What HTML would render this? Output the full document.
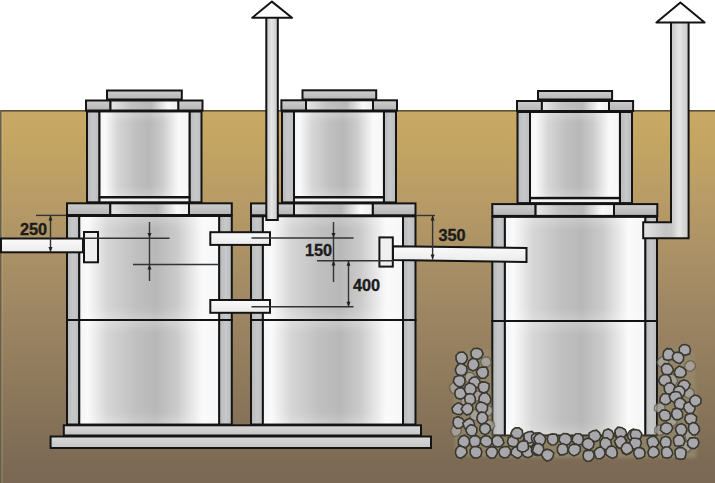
<!DOCTYPE html>
<html><head><meta charset="utf-8"><style>
html,body{margin:0;padding:0;background:#fff;}
svg{display:block;}
</style></head><body>
<svg width="715" height="483" viewBox="0 0 715 483">

<defs>
 <linearGradient id="soil" x1="0" y1="0" x2="0" y2="1">
  <stop offset="0" stop-color="#c8a865"/>
  <stop offset="0.08" stop-color="#c4a662"/>
  <stop offset="0.24" stop-color="#b89b66"/>
  <stop offset="0.51" stop-color="#9f8864"/>
  <stop offset="0.72" stop-color="#8f7a5c"/>
  <stop offset="0.95" stop-color="#7c6a55"/>
  <stop offset="1" stop-color="#7a6854"/>
 </linearGradient>
 <linearGradient id="cyl" x1="0" y1="0" x2="1" y2="0">
  <stop offset="0" stop-color="#f4f4f4"/>
  <stop offset="0.06" stop-color="#fafafa"/>
  <stop offset="0.2" stop-color="#d6d6d6"/>
  <stop offset="0.4" stop-color="#c0c0c0"/>
  <stop offset="0.55" stop-color="#b8b8b8"/>
  <stop offset="0.7" stop-color="#cbcbcb"/>
  <stop offset="0.88" stop-color="#fafafa"/>
  <stop offset="1" stop-color="#f6f6f6"/>
 </linearGradient>
 <linearGradient id="wall" x1="0" y1="0" x2="1" y2="0">
  <stop offset="0" stop-color="#b6b8ba"/>
  <stop offset="0.5" stop-color="#c6c8ca"/>
  <stop offset="1" stop-color="#babcbe"/>
 </linearGradient>
 <linearGradient id="block" x1="0" y1="0" x2="0" y2="1">
  <stop offset="0" stop-color="#cdcdcd"/>
  <stop offset="1" stop-color="#b6b6b6"/>
 </linearGradient>
 <linearGradient id="ring" x1="0" y1="0" x2="1" y2="0">
  <stop offset="0" stop-color="#e8e8e8"/>
  <stop offset="0.3" stop-color="#c2c2c2"/>
  <stop offset="0.6" stop-color="#b8b8b8"/>
  <stop offset="0.85" stop-color="#fafafa"/>
  <stop offset="1" stop-color="#eeeeee"/>
 </linearGradient>
 <linearGradient id="pipeV" x1="0" y1="0" x2="1" y2="0">
  <stop offset="0" stop-color="#c4c4c4"/>
  <stop offset="0.45" stop-color="#e6e6e6"/>
  <stop offset="1" stop-color="#c8c8c8"/>
 </linearGradient>
 <linearGradient id="pipeH" x1="0" y1="0" x2="0" y2="1">
  <stop offset="0" stop-color="#fafafa"/>
  <stop offset="1" stop-color="#ebebeb"/>
 </linearGradient>
 <linearGradient id="slab" x1="0" y1="0" x2="0" y2="1">
  <stop offset="0" stop-color="#dadada"/>
  <stop offset="1" stop-color="#c4c4c4"/>
 </linearGradient>
 <filter id="blur2" x="-10%" y="-10%" width="120%" height="120%"><feGaussianBlur stdDeviation="1.5"/></filter>
 <linearGradient id="pipeL" x1="0" y1="0" x2="1" y2="0">
  <stop offset="0" stop-color="#e4e4e4"/>
  <stop offset="0.5" stop-color="#c4c4c4"/>
  <stop offset="1" stop-color="#d8d8d8"/>
 </linearGradient>
 <linearGradient id="vshade" x1="0" y1="0" x2="0" y2="1">
  <stop offset="0" stop-color="#fff" stop-opacity="0.22"/>
  <stop offset="0.12" stop-color="#fff" stop-opacity="0"/>
  <stop offset="0.88" stop-color="#fff" stop-opacity="0"/>
  <stop offset="1" stop-color="#fff" stop-opacity="0.2"/>
 </linearGradient>
</defs>

<rect x="0.00" y="0.00" width="715.00" height="110.50" fill="#ffffff"/>
<rect x="0.00" y="110.50" width="715.00" height="372.50" fill="url(#soil)"/>
<rect x="0.00" y="110.00" width="715.00" height="1.60" fill="#5e5038"/>
<rect x="0.00" y="110.00" width="1.60" height="373.00" fill="#676050"/>
<rect x="1.60" y="111.60" width="1.00" height="371.40" fill="rgba(230,200,130,0.35)"/>
<rect x="87.00" y="111.50" width="12.50" height="90.80" fill="url(#wall)" stroke="#141414" stroke-width="2"/>
<rect x="189.50" y="111.50" width="12.00" height="90.80" fill="url(#wall)" stroke="#141414" stroke-width="2"/>
<rect x="99.50" y="111.50" width="90.00" height="85.50" fill="url(#cyl)" stroke="#141414" stroke-width="2"/>
<rect x="100.50" y="112.50" width="88.00" height="83.50" fill="url(#vshade)"/>
<rect x="99.50" y="197.50" width="90.00" height="4.80" fill="#f4f4f4" stroke="#141414" stroke-width="2"/>
<rect x="67.00" y="216.00" width="12.30" height="208.50" fill="url(#wall)" stroke="#141414" stroke-width="2"/>
<rect x="219.10" y="216.00" width="12.70" height="208.50" fill="url(#wall)" stroke="#141414" stroke-width="2"/>
<rect x="79.30" y="216.00" width="139.80" height="208.50" fill="url(#cyl)" stroke="#141414" stroke-width="2"/>
<rect x="80.30" y="217.00" width="137.80" height="102.00" fill="url(#vshade)"/>
<rect x="80.30" y="321.00" width="137.80" height="102.50" fill="url(#vshade)"/>
<line x1="66" y1="320" x2="232.8" y2="320" stroke="#141414" stroke-width="2"/>
<rect x="67.00" y="203.30" width="43.30" height="11.70" fill="url(#block)" stroke="#141414" stroke-width="2"/>
<rect x="189.00" y="203.30" width="42.80" height="11.70" fill="url(#block)" stroke="#141414" stroke-width="2"/>
<rect x="110.30" y="203.30" width="78.70" height="11.70" fill="url(#ring)" stroke="#141414" stroke-width="2"/>
<rect x="86.00" y="100.50" width="24.50" height="10.00" fill="url(#block)" stroke="#141414" stroke-width="2"/>
<rect x="178.20" y="100.50" width="24.30" height="10.00" fill="url(#block)" stroke="#141414" stroke-width="2"/>
<rect x="110.50" y="100.50" width="67.70" height="10.00" fill="url(#ring)" stroke="#141414" stroke-width="2"/>
<rect x="107.00" y="90.50" width="74.80" height="9.00" fill="url(#block)" stroke="#141414" stroke-width="2"/>
<rect x="282.00" y="111.50" width="12.00" height="90.90" fill="url(#wall)" stroke="#141414" stroke-width="2"/>
<rect x="383.90" y="111.50" width="12.10" height="90.90" fill="url(#wall)" stroke="#141414" stroke-width="2"/>
<rect x="294.00" y="111.50" width="89.90" height="85.50" fill="url(#cyl)" stroke="#141414" stroke-width="2"/>
<rect x="295.00" y="112.50" width="87.90" height="83.50" fill="url(#vshade)"/>
<rect x="294.00" y="197.50" width="89.90" height="4.90" fill="#f4f4f4" stroke="#141414" stroke-width="2"/>
<rect x="251.00" y="216.30" width="11.90" height="208.20" fill="url(#wall)" stroke="#141414" stroke-width="2"/>
<rect x="403.00" y="216.30" width="12.50" height="208.20" fill="url(#wall)" stroke="#141414" stroke-width="2"/>
<rect x="262.90" y="216.30" width="140.10" height="208.20" fill="url(#cyl)" stroke="#141414" stroke-width="2"/>
<rect x="263.90" y="217.30" width="138.10" height="101.70" fill="url(#vshade)"/>
<rect x="263.90" y="321.00" width="138.10" height="102.50" fill="url(#vshade)"/>
<line x1="250" y1="320" x2="416.5" y2="320" stroke="#141414" stroke-width="2"/>
<rect x="251.00" y="203.40" width="43.00" height="11.90" fill="url(#block)" stroke="#141414" stroke-width="2"/>
<rect x="372.70" y="203.40" width="42.80" height="11.90" fill="url(#block)" stroke="#141414" stroke-width="2"/>
<rect x="294.00" y="203.40" width="78.70" height="11.90" fill="url(#ring)" stroke="#141414" stroke-width="2"/>
<rect x="281.40" y="100.30" width="24.60" height="10.20" fill="url(#block)" stroke="#141414" stroke-width="2"/>
<rect x="373.00" y="100.30" width="24.00" height="10.20" fill="url(#block)" stroke="#141414" stroke-width="2"/>
<rect x="306.00" y="100.30" width="67.00" height="10.20" fill="url(#ring)" stroke="#141414" stroke-width="2"/>
<rect x="302.50" y="90.30" width="73.70" height="9.20" fill="url(#block)" stroke="#141414" stroke-width="2"/>
<rect x="517.50" y="112.00" width="12.50" height="91.10" fill="url(#wall)" stroke="#141414" stroke-width="2"/>
<rect x="619.90" y="112.00" width="12.10" height="91.10" fill="url(#wall)" stroke="#141414" stroke-width="2"/>
<rect x="530.00" y="112.00" width="89.90" height="85.80" fill="url(#cyl)" stroke="#141414" stroke-width="2"/>
<rect x="531.00" y="113.00" width="87.90" height="83.80" fill="url(#vshade)"/>
<rect x="530.00" y="198.30" width="89.90" height="4.80" fill="#f4f4f4" stroke="#141414" stroke-width="2"/>
<rect x="492.30" y="216.90" width="12.60" height="218.60" fill="url(#wall)" stroke="#141414" stroke-width="2"/>
<rect x="645.20" y="216.90" width="11.80" height="218.60" fill="url(#wall)" stroke="#141414" stroke-width="2"/>
<rect x="504.90" y="216.90" width="140.30" height="218.60" fill="url(#cyl)" stroke="#141414" stroke-width="2"/>
<rect x="505.90" y="217.90" width="138.30" height="102.00" fill="url(#vshade)"/>
<rect x="505.90" y="321.90" width="138.30" height="112.60" fill="url(#vshade)"/>
<line x1="491.3" y1="320.9" x2="658" y2="320.9" stroke="#141414" stroke-width="2"/>
<rect x="492.30" y="204.10" width="43.30" height="11.80" fill="url(#block)" stroke="#141414" stroke-width="2"/>
<rect x="614.00" y="204.10" width="43.30" height="11.80" fill="url(#block)" stroke="#141414" stroke-width="2"/>
<rect x="535.60" y="204.10" width="78.40" height="11.80" fill="url(#ring)" stroke="#141414" stroke-width="2"/>
<rect x="517.00" y="101.00" width="24.90" height="10.00" fill="url(#block)" stroke="#141414" stroke-width="2"/>
<rect x="609.00" y="101.00" width="24.10" height="10.00" fill="url(#block)" stroke="#141414" stroke-width="2"/>
<rect x="541.90" y="101.00" width="67.10" height="10.00" fill="url(#ring)" stroke="#141414" stroke-width="2"/>
<rect x="538.00" y="91.00" width="74.10" height="8.50" fill="url(#block)" stroke="#141414" stroke-width="2"/>
<rect x="63.80" y="425.30" width="357.20" height="10.20" fill="url(#slab)" stroke="#141414" stroke-width="2"/>
<rect x="50.60" y="436.50" width="380.40" height="11.50" fill="url(#slab)" stroke="#141414" stroke-width="2"/>
<rect x="266.30" y="17.00" width="11.50" height="203.00" fill="url(#pipeV)" stroke="#141414" stroke-width="2"/>
<path d="M271.9 1.6 L292 17.8 L252.2 17.8 Z" fill="#fff" stroke="#141414" stroke-width="2" stroke-linejoin="round"/>
<rect x="643.2" y="222.2" width="45.4" height="16" fill="url(#pipeL)"/>
<rect x="671" y="21" width="17.6" height="217.2" fill="url(#pipeV)"/>
<path d="M671 21 L688.6 21 L688.6 238.2 L643.2 238.2 L643.2 222.2 L671 222.2 Z" fill="none" stroke="#141414" stroke-width="2"/>
<path d="M680.4 2.5 L704.6 22.5 L656.4 22.5 Z" fill="#fff" stroke="#141414" stroke-width="2" stroke-linejoin="round"/>
<rect x="1.00" y="238.50" width="82.00" height="13.80" fill="url(#pipeH)" stroke="#141414" stroke-width="2"/>
<rect x="84.00" y="232.00" width="14.00" height="30.30" fill="#f0f0f0" stroke="#141414" stroke-width="2"/>
<rect x="210.30" y="232.20" width="59.70" height="12.70" fill="url(#pipeH)" stroke="#141414" stroke-width="2"/>
<rect x="210.30" y="300.00" width="59.70" height="12.80" fill="url(#pipeH)" stroke="#141414" stroke-width="2"/>
<path d="M393 246.3 L526.5 248 L526.5 261.9 L393 260.1 Z" fill="url(#pipeH)" stroke="#141414" stroke-width="2"/>
<rect x="379.40" y="237.40" width="13.40" height="29.20" fill="#f0f0f0" stroke="#141414" stroke-width="2"/>
<line x1="36" y1="215.4" x2="66" y2="215.4" stroke="#333333" stroke-width="1.4"/>
<line x1="50.5" y1="215.5" x2="50.5" y2="252" stroke="#333333" stroke-width="1.4"/>
<path d="M50.5 215.5 L48.5 220.5 L52.5 220.5 Z" fill="#222"/>
<path d="M50.5 252 L48.5 247 L52.5 247 Z" fill="#222"/>
<line x1="149.5" y1="222" x2="149.5" y2="281" stroke="#333333" stroke-width="1.4"/>
<line x1="84" y1="238.2" x2="169.5" y2="238.2" stroke="#333333" stroke-width="1.5"/>
<path d="M149.5 238 L147.5 233 L151.5 233 Z" fill="#222"/>
<line x1="133" y1="264.5" x2="219" y2="264.5" stroke="#333333" stroke-width="1.4"/>
<path d="M149.5 264.5 L147.5 269.5 L151.5 269.5 Z" fill="#222"/>
<line x1="251.5" y1="238" x2="353.5" y2="238" stroke="#333333" stroke-width="1.4"/>
<line x1="333.5" y1="222" x2="333.5" y2="282" stroke="#333333" stroke-width="1.4"/>
<path d="M333.5 238 L331.5 233 L335.5 233 Z" fill="#222"/>
<line x1="317" y1="260.7" x2="393" y2="260.7" stroke="#333333" stroke-width="1.4"/>
<path d="M333.5 260.5 L331.5 265.5 L335.5 265.5 Z" fill="#222"/>
<line x1="348.5" y1="260.7" x2="348.5" y2="306.7" stroke="#333333" stroke-width="1.4"/>
<path d="M348.5 260.7 L346.5 265.7 L350.5 265.7 Z" fill="#222"/>
<path d="M348.5 306.7 L346.5 301.7 L350.5 301.7 Z" fill="#222"/>
<line x1="251.5" y1="306.7" x2="353.5" y2="306.7" stroke="#333333" stroke-width="1.4"/>
<line x1="416" y1="215.5" x2="435" y2="215.5" stroke="#333333" stroke-width="1.4"/>
<line x1="432.6" y1="215.5" x2="432.6" y2="259.5" stroke="#333333" stroke-width="1.4"/>
<path d="M432.6 215.5 L430.6 220.5 L434.6 220.5 Z" fill="#222"/>
<path d="M432.6 259.5 L430.6 254.5 L434.6 254.5 Z" fill="#222"/>
<text x="20" y="235.2" font-family="Liberation Sans" font-weight="bold" font-size="16.3" fill="#1c1c1c" stroke="#1c1c1c" stroke-width="0.35">250</text>
<text x="305" y="256" font-family="Liberation Sans" font-weight="bold" font-size="16.3" fill="#1c1c1c" stroke="#1c1c1c" stroke-width="0.35">150</text>
<text x="353" y="291" font-family="Liberation Sans" font-weight="bold" font-size="16.3" fill="#1c1c1c" stroke="#1c1c1c" stroke-width="0.35">400</text>
<text x="438.5" y="241.4" font-family="Liberation Sans" font-weight="bold" font-size="16.3" fill="#1c1c1c" stroke="#1c1c1c" stroke-width="0.35">350</text>
<path d="M456 354 L472 348 L490 350 L493 436 L658 436 L660 350 L680 346 L694 352 L698 440 L696 458 L520 458 L456 456 L453 420 Z" fill="#958c6e" filter="url(#blur2)" opacity="0.7"/>
<polygon points="488.74,366.43 485.17,367.71 482.18,365.41 480.36,362.17 481.72,358.62 484.96,357.00 488.66,357.06 490.72,360.12 491.25,363.73" fill="#aba9a8" stroke="#5e5a48" stroke-width="1.3" opacity="0.75"/>
<polygon points="475.02,379.12 473.35,382.38 469.73,383.96 466.50,381.81 464.75,378.68 465.16,374.91 468.17,372.18 472.18,372.75 474.87,375.47" fill="#aba9a8" stroke="#5e5a48" stroke-width="1.3" opacity="0.75"/>
<polygon points="472.92,396.38 473.13,392.50 476.68,390.80 480.26,391.31 482.71,393.87 483.18,397.46 481.35,400.92 477.48,401.22 473.92,399.97" fill="#aba9a8" stroke="#5e5a48" stroke-width="1.3" opacity="0.75"/>
<polygon points="463.69,405.95 460.88,403.39 461.06,399.68 463.07,396.82 466.46,395.75 470.10,396.90 471.50,400.52 470.42,404.09 467.47,406.50" fill="#aba9a8" stroke="#5e5a48" stroke-width="1.3" opacity="0.75"/>
<polygon points="487.79,416.32 483.90,416.05 481.48,412.84 482.06,409.05 484.29,406.00 488.13,405.49 491.72,407.26 492.85,411.16 491.01,414.56" fill="#aba9a8" stroke="#5e5a48" stroke-width="1.3" opacity="0.75"/>
<polygon points="469.84,415.32 470.57,411.73 473.62,409.28 477.32,410.33 480.12,412.77 479.88,416.44 478.20,419.82 474.34,420.86 470.88,418.92" fill="#aba9a8" stroke="#5e5a48" stroke-width="1.3" opacity="0.75"/>
<polygon points="450.02,390.06 449.45,386.24 451.94,383.18 455.75,382.36 459.10,384.26 460.98,387.75 459.83,391.72 456.20,393.44 452.32,393.13" fill="#aba9a8" stroke="#5e5a48" stroke-width="1.3" opacity="0.75"/>
<polygon points="494.72,426.10 492.63,429.48 488.90,431.15 485.10,429.50 483.71,425.85 484.31,422.19 487.11,419.53 490.81,420.27 493.86,422.30" fill="#aba9a8" stroke="#5e5a48" stroke-width="1.3" opacity="0.75"/>
<polygon points="460.47,433.60 457.73,435.81 453.96,436.54 451.50,433.57 450.77,430.05 452.50,426.79 456.03,424.98 459.31,427.08 461.46,430.06" fill="#aba9a8" stroke="#5e5a48" stroke-width="1.3" opacity="0.75"/>
<polygon points="662.07,367.96 658.51,365.92 656.99,362.12 658.83,358.64 661.94,356.60 665.63,357.24 668.63,359.83 668.78,363.98 665.69,366.46" fill="#aba9a8" stroke="#5e5a48" stroke-width="1.3" opacity="0.75"/>
<polygon points="694.51,368.79 691.66,371.03 687.93,371.19 684.98,368.70 684.78,364.92 686.87,362.04 690.17,360.49 693.63,361.93 695.62,365.18" fill="#aba9a8" stroke="#5e5a48" stroke-width="1.3" opacity="0.75"/>
<polygon points="666.25,380.85 667.21,377.06 670.19,374.56 674.13,374.61 676.48,377.57 677.92,381.21 675.68,384.63 671.84,386.02 668.06,384.44" fill="#aba9a8" stroke="#5e5a48" stroke-width="1.3" opacity="0.75"/>
<polygon points="690.82,398.18 687.18,397.83 683.99,395.82 683.98,392.06 685.76,389.05 689.06,387.73 692.40,389.04 694.35,392.12 693.39,395.60" fill="#aba9a8" stroke="#5e5a48" stroke-width="1.3" opacity="0.75"/>
<polygon points="665.21,408.00 663.95,411.32 660.94,413.37 657.46,412.39 654.34,410.05 654.62,406.04 657.40,403.49 660.93,402.76 664.16,404.51" fill="#aba9a8" stroke="#5e5a48" stroke-width="1.3" opacity="0.75"/>
<polygon points="674.14,425.71 670.39,426.77 666.93,424.48 666.46,420.46 668.09,417.02 671.60,415.88 675.00,416.81 677.25,419.65 676.81,423.30" fill="#aba9a8" stroke="#5e5a48" stroke-width="1.3" opacity="0.75"/>
<polygon points="685.52,438.67 685.00,435.19 686.01,431.38 689.92,430.37 693.29,431.97 695.55,434.94 694.43,438.47 692.00,441.26 687.98,441.79" fill="#aba9a8" stroke="#5e5a48" stroke-width="1.3" opacity="0.75"/>
<polygon points="654.71,432.42 654.86,428.58 656.90,425.51 660.49,424.80 664.20,425.85 665.62,429.55 664.82,433.42 661.36,435.23 657.73,434.78" fill="#aba9a8" stroke="#5e5a48" stroke-width="1.3" opacity="0.75"/>
<polygon points="680.90,450.43 680.04,446.37 681.88,442.72 685.59,441.06 689.46,442.26 691.14,445.73 691.05,449.47 688.21,451.97 684.60,451.87" fill="#aba9a8" stroke="#5e5a48" stroke-width="1.3" opacity="0.75"/>
<polygon points="467.42,358.69 465.77,362.17 462.33,364.30 458.10,363.47 456.16,359.71 455.99,355.49 459.07,352.33 463.47,351.98 466.50,354.91" fill="#a8a7ab" stroke="#3a382e" stroke-width="1.6"/>
<polygon points="481.19,357.56 477.89,359.45 474.15,358.82 471.23,356.10 470.90,351.85 473.72,348.56 477.89,348.21 481.54,350.07 483.15,353.97" fill="#a8a7ab" stroke="#3a382e" stroke-width="1.6"/>
<polygon points="466.97,371.10 464.74,374.75 460.53,375.71 456.70,373.86 455.25,369.99 456.59,366.31 459.51,363.46 463.53,364.34 466.78,366.88" fill="#a8a7ab" stroke="#3a382e" stroke-width="1.6"/>
<polygon points="467.75,365.11 468.76,361.29 471.83,358.39 476.10,359.01 478.49,362.26 478.78,366.00 476.66,369.09 472.96,370.95 469.08,369.04" fill="#a8a7ab" stroke="#3a382e" stroke-width="1.6"/>
<polygon points="487.93,375.09 484.90,378.22 480.59,378.14 477.54,375.47 476.38,371.65 478.53,368.35 481.96,366.98 486.12,367.10 488.20,370.86" fill="#a8a7ab" stroke="#3a382e" stroke-width="1.6"/>
<polygon points="459.17,387.19 455.60,384.93 453.39,381.38 454.54,377.21 458.24,375.44 462.05,375.71 464.82,378.39 465.11,382.23 463.16,385.70" fill="#a8a7ab" stroke="#3a382e" stroke-width="1.6"/>
<polygon points="478.48,387.12 474.82,388.36 470.69,388.02 468.93,384.22 469.27,380.27 472.13,377.39 476.33,376.79 479.35,379.71 480.85,383.64" fill="#a8a7ab" stroke="#3a382e" stroke-width="1.6"/>
<polygon points="483.67,393.04 479.87,391.62 478.44,388.00 478.67,384.16 481.84,381.90 485.54,382.12 489.13,384.00 489.12,388.09 487.45,391.62" fill="#a8a7ab" stroke="#3a382e" stroke-width="1.6"/>
<polygon points="456.52,398.03 454.78,394.44 455.30,390.49 458.41,387.88 462.59,387.66 465.13,390.83 466.27,394.59 463.96,397.83 460.35,399.14" fill="#a8a7ab" stroke="#3a382e" stroke-width="1.6"/>
<polygon points="465.84,393.08 464.33,389.30 465.48,385.29 469.08,382.93 473.13,384.10 475.93,387.04 475.88,391.12 473.35,394.27 469.34,395.25" fill="#a8a7ab" stroke="#3a382e" stroke-width="1.6"/>
<polygon points="485.89,404.87 481.94,404.01 478.91,401.05 479.29,396.76 481.97,393.43 486.27,392.71 489.39,395.50 490.97,399.15 489.82,403.25" fill="#a8a7ab" stroke="#3a382e" stroke-width="1.6"/>
<polygon points="465.21,401.64 464.65,397.94 466.35,394.46 470.11,393.61 473.68,394.79 475.33,398.17 475.22,402.16 472.01,404.90 467.70,404.94" fill="#a8a7ab" stroke="#3a382e" stroke-width="1.6"/>
<polygon points="463.74,411.87 460.60,414.64 456.63,414.22 452.93,412.38 451.91,408.12 454.56,404.87 458.05,402.57 461.84,404.43 464.05,407.76" fill="#a8a7ab" stroke="#3a382e" stroke-width="1.6"/>
<polygon points="461.21,409.20 463.18,405.60 466.31,403.30 470.29,403.78 472.80,406.88 472.76,410.73 470.50,413.83 466.62,415.10 463.53,412.56" fill="#a8a7ab" stroke="#3a382e" stroke-width="1.6"/>
<polygon points="480.51,413.45 477.43,411.15 475.80,407.73 476.85,403.84 480.45,401.88 484.17,403.02 487.57,405.46 487.37,409.81 484.75,413.28" fill="#a8a7ab" stroke="#3a382e" stroke-width="1.6"/>
<polygon points="487.62,420.02 485.07,422.78 481.34,424.35 478.06,421.90 476.84,418.31 477.78,414.56 481.07,411.93 485.33,412.70 487.54,416.17" fill="#a8a7ab" stroke="#3a382e" stroke-width="1.6"/>
<polygon points="464.00,425.39 460.65,428.00 456.52,428.37 453.76,425.46 452.96,421.86 454.12,418.03 457.98,416.70 461.54,418.18 464.55,421.04" fill="#a8a7ab" stroke="#3a382e" stroke-width="1.6"/>
<polygon points="466.34,430.31 464.03,426.95 462.77,423.05 465.75,420.23 469.36,418.29 472.98,420.41 474.58,424.02 473.83,427.95 470.64,430.76" fill="#a8a7ab" stroke="#3a382e" stroke-width="1.6"/>
<polygon points="488.64,432.87 485.18,434.73 481.54,433.19 479.68,429.91 480.15,426.20 483.01,423.81 486.73,423.53 489.83,425.81 490.61,429.61" fill="#a8a7ab" stroke="#3a382e" stroke-width="1.6"/>
<polygon points="467.59,434.08 465.81,430.54 467.27,426.90 470.39,424.63 474.10,425.44 476.85,427.98 476.80,431.73 475.09,435.36 471.00,436.12" fill="#a8a7ab" stroke="#3a382e" stroke-width="1.6"/>
<polygon points="468.86,444.79 465.76,447.67 461.78,446.46 458.35,444.24 458.36,440.08 460.54,436.73 464.45,435.22 468.02,437.35 469.88,440.89" fill="#a8a7ab" stroke="#3a382e" stroke-width="1.6"/>
<polygon points="471.60,446.88 469.71,443.09 469.44,438.96 472.49,435.99 476.64,435.61 479.87,438.08 480.91,441.88 479.08,445.22 475.79,446.93" fill="#a8a7ab" stroke="#3a382e" stroke-width="1.6"/>
<polygon points="492.53,442.86 489.90,445.97 486.24,447.00 482.83,445.47 480.25,442.30 481.17,438.07 484.69,435.67 488.68,436.30 491.47,438.94" fill="#a8a7ab" stroke="#3a382e" stroke-width="1.6"/>
<polygon points="501.24,446.16 497.44,446.99 493.74,445.79 492.12,442.21 492.28,438.01 495.79,435.33 500.00,436.01 502.68,438.94 503.99,442.92" fill="#a8a7ab" stroke="#3a382e" stroke-width="1.6"/>
<polygon points="516.43,446.24 512.67,446.78 509.08,445.52 507.35,441.94 508.41,438.05 511.83,436.12 515.76,436.18 518.05,439.31 518.61,443.02" fill="#a8a7ab" stroke="#3a382e" stroke-width="1.6"/>
<polygon points="534.25,443.11 531.68,445.95 528.13,446.81 524.61,445.43 523.13,441.87 523.85,437.96 527.28,435.74 531.43,435.94 534.27,439.04" fill="#a8a7ab" stroke="#3a382e" stroke-width="1.6"/>
<polygon points="457.02,456.94 455.34,453.11 456.01,449.25 458.67,445.96 462.78,446.81 466.28,448.81 467.00,452.94 464.53,456.04 461.12,458.29" fill="#a8a7ab" stroke="#3a382e" stroke-width="1.6"/>
<polygon points="470.30,454.01 470.22,449.83 472.92,446.54 477.00,446.62 480.58,448.23 481.90,452.06 480.78,456.09 477.03,458.17 472.81,457.41" fill="#a8a7ab" stroke="#3a382e" stroke-width="1.6"/>
<polygon points="490.34,458.14 486.98,455.50 485.90,451.45 488.06,448.04 491.55,446.67 495.15,447.53 497.54,450.53 496.92,454.31 494.65,457.71" fill="#a8a7ab" stroke="#3a382e" stroke-width="1.6"/>
<polygon points="503.69,457.95 500.13,455.84 498.69,451.94 500.33,448.17 503.93,446.76 507.98,446.62 510.64,449.94 510.33,454.07 507.72,457.17" fill="#a8a7ab" stroke="#3a382e" stroke-width="1.6"/>
<polygon points="514.21,456.73 511.04,454.25 511.49,450.20 513.99,447.39 517.65,446.44 521.43,447.93 522.35,451.87 521.63,455.86 518.07,458.34" fill="#a8a7ab" stroke="#3a382e" stroke-width="1.6"/>
<polygon points="528.11,457.76 524.31,456.57 522.00,453.18 522.56,449.00 525.83,446.37 529.97,446.26 532.63,449.21 533.42,452.85 531.69,456.23" fill="#a8a7ab" stroke="#3a382e" stroke-width="1.6"/>
<polygon points="512.88,437.09 510.86,433.65 512.37,430.04 515.30,427.83 519.07,427.85 522.27,430.30 522.75,434.46 520.41,437.93 516.43,438.64" fill="#a8a7ab" stroke="#3a382e" stroke-width="1.6"/>
<polygon points="529.10,443.15 525.41,441.59 523.99,437.97 524.06,433.84 527.78,432.00 531.92,431.35 535.11,434.39 534.59,438.50 532.92,441.97" fill="#a8a7ab" stroke="#3a382e" stroke-width="1.6"/>
<polygon points="517.55,449.86 517.21,445.63 519.20,442.25 522.77,440.85 526.92,441.31 528.43,445.20 528.31,449.18 525.09,451.46 521.21,452.05" fill="#a8a7ab" stroke="#3a382e" stroke-width="1.6"/>
<polygon points="531.59,439.51 531.65,435.42 535.12,433.10 539.33,432.79 542.40,435.77 542.47,439.81 540.97,443.68 536.85,444.58 533.46,442.70" fill="#a8a7ab" stroke="#3a382e" stroke-width="1.6"/>
<polygon points="542.89,450.07 541.43,453.81 537.92,455.59 534.21,454.71 531.61,451.89 531.68,448.00 533.91,444.51 537.98,444.78 541.79,446.07" fill="#a8a7ab" stroke="#3a382e" stroke-width="1.6"/>
<polygon points="535.23,442.14 533.72,438.27 536.13,434.72 540.12,433.13 543.71,435.24 545.68,438.60 544.95,442.48 542.11,445.64 537.84,445.10" fill="#a8a7ab" stroke="#3a382e" stroke-width="1.6"/>
<polygon points="555.06,444.77 551.15,444.94 548.21,442.58 547.19,439.03 548.14,435.05 552.10,433.88 556.27,434.24 558.01,438.04 557.70,441.87" fill="#a8a7ab" stroke="#3a382e" stroke-width="1.6"/>
<polygon points="565.11,445.03 561.45,443.78 558.92,440.40 559.91,436.14 563.36,433.54 567.57,433.89 570.94,436.50 571.58,440.83 568.97,444.19" fill="#a8a7ab" stroke="#3a382e" stroke-width="1.6"/>
<polygon points="574.58,443.64 571.93,440.62 572.92,436.62 575.83,433.69 580.03,433.78 582.87,436.64 583.29,440.39 582.16,444.37 578.05,444.96" fill="#a8a7ab" stroke="#3a382e" stroke-width="1.6"/>
<polygon points="595.40,441.69 591.65,440.64 588.93,437.60 589.04,433.27 592.53,430.91 596.47,430.12 599.54,432.75 600.84,436.52 598.98,440.08" fill="#a8a7ab" stroke="#3a382e" stroke-width="1.6"/>
<polygon points="612.96,438.16 610.09,440.62 606.01,441.39 603.09,438.34 602.72,434.42 604.11,430.50 608.21,428.91 611.96,430.93 613.59,434.46" fill="#a8a7ab" stroke="#3a382e" stroke-width="1.6"/>
<polygon points="624.66,437.08 621.71,439.51 617.94,438.92 615.15,436.40 614.77,432.58 616.74,429.12 620.71,427.66 624.55,429.59 625.97,433.46" fill="#a8a7ab" stroke="#3a382e" stroke-width="1.6"/>
<polygon points="634.58,441.11 630.61,440.64 627.85,437.86 627.79,434.05 629.73,430.81 633.51,428.97 636.83,431.51 638.88,434.83 637.99,438.83" fill="#a8a7ab" stroke="#3a382e" stroke-width="1.6"/>
<polygon points="582.74,446.22 582.37,442.41 584.61,439.29 588.34,438.14 591.95,439.80 594.21,443.37 592.95,447.55 589.41,450.03 585.52,448.72" fill="#a8a7ab" stroke="#3a382e" stroke-width="1.6"/>
<polygon points="611.52,444.52 609.84,448.46 605.83,449.75 601.89,448.77 600.25,445.20 600.20,441.39 602.78,438.06 607.11,437.85 610.63,440.35" fill="#a8a7ab" stroke="#3a382e" stroke-width="1.6"/>
<polygon points="615.42,442.99 616.55,439.38 619.58,437.19 623.50,437.13 626.54,439.92 627.20,444.16 624.53,447.55 620.47,448.55 616.61,446.89" fill="#a8a7ab" stroke="#3a382e" stroke-width="1.6"/>
<polygon points="539.30,455.41 535.64,454.03 532.56,451.39 533.33,447.38 535.53,443.84 539.80,443.57 542.99,446.04 543.96,449.72 542.65,453.27" fill="#a8a7ab" stroke="#3a382e" stroke-width="1.6"/>
<polygon points="559.95,455.08 557.59,451.84 557.28,448.15 559.06,444.67 562.97,443.52 566.55,445.39 568.05,448.97 567.46,452.91 563.92,454.63" fill="#a8a7ab" stroke="#3a382e" stroke-width="1.6"/>
<polygon points="577.82,454.25 573.92,455.92 570.16,453.85 568.08,450.13 569.55,446.19 572.89,444.12 576.70,444.39 580.20,446.70 580.35,451.01" fill="#a8a7ab" stroke="#3a382e" stroke-width="1.6"/>
<polygon points="630.34,453.19 626.75,454.67 622.96,453.09 621.51,449.27 622.72,445.55 625.76,442.90 630.04,443.01 632.37,446.47 632.46,450.21" fill="#a8a7ab" stroke="#3a382e" stroke-width="1.6"/>
<polygon points="550.53,460.07 546.55,461.01 543.40,458.50 541.45,454.91 543.02,450.96 546.76,449.17 550.55,450.23 553.80,452.88 553.01,457.02" fill="#a8a7ab" stroke="#3a382e" stroke-width="1.6"/>
<polygon points="583.79,458.79 582.98,455.06 584.31,451.22 588.26,450.15 592.43,450.70 594.26,454.53 593.40,458.36 590.62,460.95 586.75,461.33" fill="#a8a7ab" stroke="#3a382e" stroke-width="1.6"/>
<polygon points="596.61,458.58 594.66,454.90 594.37,451.05 597.00,448.20 600.89,446.63 603.98,449.46 605.17,452.98 603.94,456.44 600.83,458.68" fill="#a8a7ab" stroke="#3a382e" stroke-width="1.6"/>
<polygon points="605.77,454.30 606.06,450.02 608.72,446.59 613.10,446.02 616.27,448.77 617.33,452.46 616.59,456.56 612.70,458.43 608.99,456.85" fill="#a8a7ab" stroke="#3a382e" stroke-width="1.6"/>
<polygon points="681.86,354.71 679.31,351.70 679.33,347.79 681.91,344.95 685.59,344.46 689.00,346.04 690.42,349.66 689.66,353.80 685.69,355.07" fill="#a8a7ab" stroke="#3a382e" stroke-width="1.6"/>
<polygon points="662.98,355.22 663.72,351.43 666.72,348.58 671.01,348.84 673.71,352.01 673.72,355.86 671.99,359.32 668.14,360.34 664.09,359.23" fill="#a8a7ab" stroke="#3a382e" stroke-width="1.6"/>
<polygon points="683.12,360.77 680.08,363.64 676.16,362.35 673.16,359.97 672.34,355.90 674.81,352.43 678.84,352.16 682.17,353.70 683.76,357.01" fill="#a8a7ab" stroke="#3a382e" stroke-width="1.6"/>
<polygon points="661.66,370.79 661.52,366.72 664.47,363.60 668.64,363.90 671.75,366.22 673.51,370.03 671.32,373.72 667.53,375.00 663.52,374.40" fill="#a8a7ab" stroke="#3a382e" stroke-width="1.6"/>
<polygon points="683.57,377.02 679.86,377.58 675.97,376.53 674.12,372.64 675.66,368.66 679.05,366.04 682.92,367.54 685.64,370.11 686.12,374.01" fill="#a8a7ab" stroke="#3a382e" stroke-width="1.6"/>
<polygon points="658.62,380.87 660.12,376.93 663.29,374.66 667.20,374.61 670.21,377.25 671.26,381.36 668.39,384.37 664.76,386.25 660.85,384.58" fill="#a8a7ab" stroke="#3a382e" stroke-width="1.6"/>
<polygon points="678.72,388.89 678.03,384.75 680.20,381.36 683.81,379.92 687.54,381.09 690.10,384.31 688.77,388.14 686.07,390.74 682.07,391.49" fill="#a8a7ab" stroke="#3a382e" stroke-width="1.6"/>
<polygon points="673.84,392.78 670.51,394.33 666.62,393.91 664.51,390.52 664.12,386.32 667.27,383.27 671.62,382.73 674.58,385.74 675.39,389.43" fill="#a8a7ab" stroke="#3a382e" stroke-width="1.6"/>
<polygon points="684.63,393.76 682.32,397.18 678.25,397.79 674.89,395.78 673.20,392.27 674.20,388.33 677.66,386.04 681.85,386.50 684.82,389.57" fill="#a8a7ab" stroke="#3a382e" stroke-width="1.6"/>
<polygon points="663.01,403.94 659.79,401.40 660.37,397.30 662.67,394.04 666.66,393.53 670.41,395.19 671.24,399.16 670.02,402.77 666.71,404.71" fill="#a8a7ab" stroke="#3a382e" stroke-width="1.6"/>
<polygon points="681.23,400.04 677.88,402.64 673.88,402.53 670.72,400.20 669.18,396.24 671.62,392.74 675.37,391.52 679.42,392.14 681.54,395.79" fill="#a8a7ab" stroke="#3a382e" stroke-width="1.6"/>
<polygon points="674.37,404.35 675.20,400.56 678.53,398.05 682.79,398.66 685.74,401.85 684.88,405.89 682.77,409.02 679.01,409.59 675.66,407.88" fill="#a8a7ab" stroke="#3a382e" stroke-width="1.6"/>
<polygon points="683.62,408.21 684.36,404.01 688.12,402.14 692.29,401.97 694.90,405.24 695.02,409.17 693.16,412.81 689.03,414.10 685.75,411.53" fill="#a8a7ab" stroke="#3a382e" stroke-width="1.6"/>
<polygon points="693.50,406.37 690.62,403.61 689.60,399.87 691.59,396.57 695.04,395.06 698.70,396.14 701.17,399.28 700.70,403.39 697.44,405.72" fill="#a8a7ab" stroke="#3a382e" stroke-width="1.6"/>
<polygon points="670.69,415.60 669.54,419.49 665.76,420.88 661.99,420.21 659.72,417.11 659.21,413.05 662.21,410.14 666.12,410.13 669.28,412.06" fill="#a8a7ab" stroke="#3a382e" stroke-width="1.6"/>
<polygon points="678.93,419.64 674.81,419.66 672.25,416.61 671.60,412.94 673.15,409.23 677.12,408.21 680.71,409.75 682.61,413.13 682.51,417.33" fill="#a8a7ab" stroke="#3a382e" stroke-width="1.6"/>
<polygon points="694.32,423.97 690.38,424.70 686.81,423.01 684.68,419.42 685.77,415.17 689.63,413.43 693.45,414.03 696.65,416.51 696.33,420.55" fill="#a8a7ab" stroke="#3a382e" stroke-width="1.6"/>
<polygon points="672.77,428.12 670.78,431.82 667.38,434.20 663.41,432.96 660.39,430.06 660.94,425.90 663.74,423.19 667.42,422.77 671.04,424.25" fill="#a8a7ab" stroke="#3a382e" stroke-width="1.6"/>
<polygon points="678.47,435.27 676.28,431.76 675.37,427.90 677.93,424.77 681.75,423.62 685.10,425.65 686.83,429.04 686.03,432.93 682.82,435.69" fill="#a8a7ab" stroke="#3a382e" stroke-width="1.6"/>
<polygon points="699.45,430.77 697.07,434.20 692.83,435.16 689.68,432.39 688.44,428.84 688.95,424.71 692.73,422.45 696.80,423.69 698.94,426.93" fill="#a8a7ab" stroke="#3a382e" stroke-width="1.6"/>
<polygon points="647.39,443.53 647.30,439.33 650.61,436.65 654.81,436.18 657.60,439.18 659.19,442.93 656.82,446.26 653.33,447.98 649.23,447.26" fill="#a8a7ab" stroke="#3a382e" stroke-width="1.6"/>
<polygon points="660.95,445.03 660.21,441.30 661.93,437.82 665.62,436.28 669.35,437.74 671.06,441.18 670.59,444.94 667.88,447.97 663.60,448.21" fill="#a8a7ab" stroke="#3a382e" stroke-width="1.6"/>
<polygon points="684.92,441.57 683.20,445.37 679.24,446.15 675.17,445.80 673.68,441.99 673.66,438.03 676.71,435.30 680.81,435.03 683.78,437.74" fill="#a8a7ab" stroke="#3a382e" stroke-width="1.6"/>
<polygon points="694.69,448.71 690.69,448.14 687.66,445.41 687.58,441.33 689.91,438.09 693.72,437.59 697.52,438.67 699.07,442.45 697.74,446.15" fill="#a8a7ab" stroke="#3a382e" stroke-width="1.6"/>
<polygon points="649.11,456.21 647.86,452.26 649.32,448.64 652.42,446.27 656.21,447.18 658.74,449.90 659.25,453.74 656.62,456.57 652.94,457.78" fill="#a8a7ab" stroke="#3a382e" stroke-width="1.6"/>
<polygon points="666.83,458.06 662.96,457.22 661.65,453.47 661.75,449.44 665.06,446.78 669.20,447.21 671.74,450.16 672.78,453.91 670.56,457.23" fill="#a8a7ab" stroke="#3a382e" stroke-width="1.6"/>
<polygon points="675.09,454.34 675.09,450.23 678.41,447.36 682.73,447.74 685.99,450.47 685.93,454.57 684.56,458.54 680.38,459.39 676.26,458.35" fill="#a8a7ab" stroke="#3a382e" stroke-width="1.6"/>
<polygon points="615.29,434.44 614.94,430.37 617.88,427.20 621.98,427.79 625.28,429.71 626.78,433.53 624.49,436.88 621.17,439.34 617.38,437.62" fill="#a8a7ab" stroke="#3a382e" stroke-width="1.6"/>
<polygon points="631.41,438.00 630.14,434.30 631.62,430.34 635.69,429.45 639.37,430.50 641.75,433.65 641.08,437.57 638.11,439.92 634.40,440.29" fill="#a8a7ab" stroke="#3a382e" stroke-width="1.6"/>
<polygon points="626.21,445.11 622.79,447.71 618.53,448.02 615.88,444.84 614.44,441.02 617.03,437.89 620.50,436.06 624.42,437.29 626.23,440.91" fill="#a8a7ab" stroke="#3a382e" stroke-width="1.6"/>
<polygon points="629.90,445.92 629.67,441.83 631.95,438.27 636.07,438.21 640.15,439.19 641.45,443.30 640.00,447.09 636.79,449.69 632.84,448.60" fill="#a8a7ab" stroke="#3a382e" stroke-width="1.6"/>
<polygon points="621.01,448.68 622.50,444.95 625.74,442.42 629.76,443.36 632.13,446.46 632.87,450.44 629.82,453.07 626.09,454.71 622.81,452.23" fill="#a8a7ab" stroke="#3a382e" stroke-width="1.6"/>
<polygon points="636.86,458.56 634.16,455.23 633.72,451.12 636.35,448.04 640.07,447.41 643.39,448.92 645.07,452.23 644.54,456.17 641.10,458.32" fill="#a8a7ab" stroke="#3a382e" stroke-width="1.6"/>
</svg>
</body></html>
